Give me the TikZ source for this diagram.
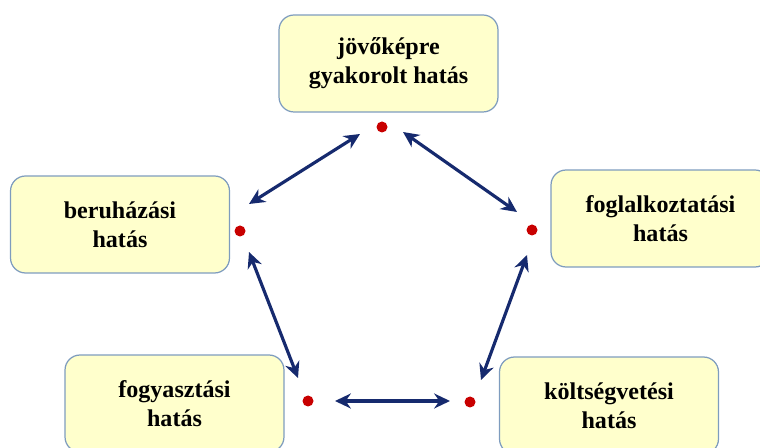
\documentclass[tikz,border=0pt]{standalone}
\usepackage{fontspec}
\setmainfont{Liberation Serif}
\usepackage{tikz}
\usetikzlibrary{arrows.meta}

\definecolor{boxfill}{RGB}{255,255,204}
\definecolor{boxline}{RGB}{126,156,190}
\definecolor{arrowblue}{RGB}{22,42,110}
\definecolor{dotred}{RGB}{200,0,0}

\tikzset{
  hatas/.style={draw=boxline, line width=0.7pt, fill=boxfill, rounded corners=0.3cm,
    minimum width=4.38cm, minimum height=1.94cm, align=center,
    font=\fontsize{13.7}{16.5}\selectfont\bfseries},
  pont/.style={circle, fill=dotred, inner sep=0pt, minimum size=0.22cm},
  kapcs/.style={draw=arrowblue, line width=1.8pt, {Stealth[length=9pt,width=8.5pt]}-{Stealth[length=9pt,width=8.5pt]}}
}

\begin{document}
\begin{tikzpicture}[x=0.02cm, y=-0.02cm]
				\useasboundingbox (0,0) rectangle (760,448);
				\clip (0,0) rectangle (760,448);
				% dobozok
				\node[hatas] (jovo) at (388.5,63.5) {jövőképre\\gyakorolt hatás};
				\node[hatas] (beru) at (120,224.5) {beruházási\\hatás};
				\node[hatas] (fogl) at (660.5,218.5) {foglalkoztatási\\hatás};
				\node[hatas] (fogy) at (174.5,403.5) {fogyasztási\\hatás};
				\node[hatas] (kolt) at (609,405.5) {költségvetési\\hatás};
				% pontok
				\node[pont] (pjovo) at (382,127) {};
				\node[pont] (pberu) at (240,231) {};
				\node[pont] (pfogl) at (532,230) {};
				\node[pont] (pfogy) at (308,401) {};
				\node[pont] (pkolt) at (470,402) {};
				% nyilak vegpontjai
				\coordinate (n1a) at (249,204); \coordinate (n1b) at (360,134);
				\coordinate (n2a) at (403,132); \coordinate (n2b) at (517,212);
				\coordinate (n3a) at (249,252); \coordinate (n3b) at (298,378);
				\coordinate (n4a) at (527,255); \coordinate (n4b) at (481,380);
				\coordinate (n5a) at (335,401); \coordinate (n5b) at (450,401);
				\draw[kapcs] (n1a) -- (n1b);
				\draw[kapcs] (n2a) -- (n2b);
				\draw[kapcs] (n3a) -- (n3b);
				\draw[kapcs] (n4a) -- (n4b);
				\draw[kapcs] (n5a) -- (n5b);
\end{tikzpicture}
\end{document}
